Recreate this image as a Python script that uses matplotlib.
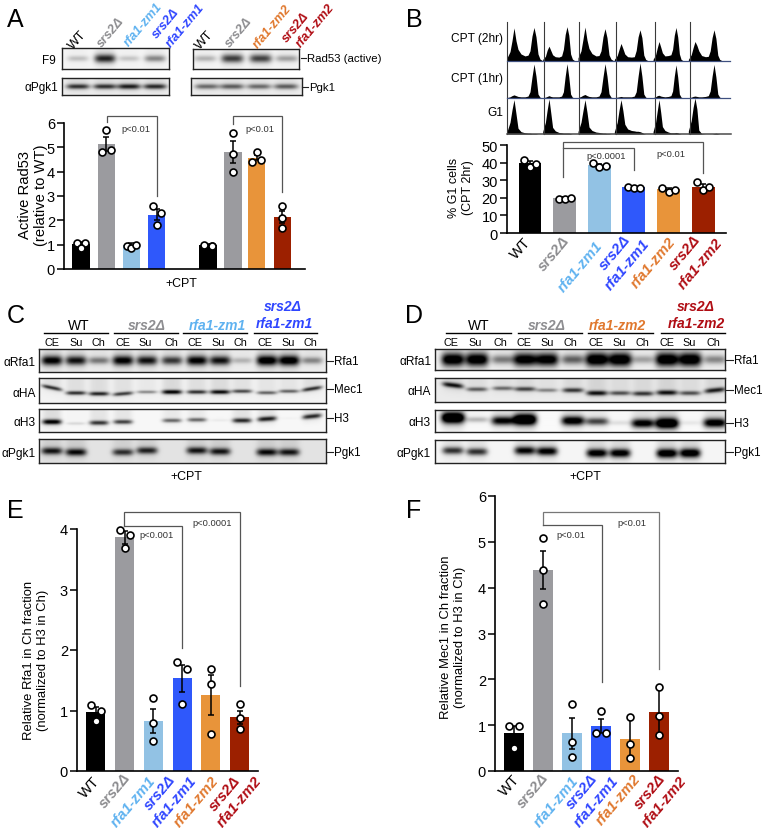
# -*- coding: utf-8 -*-
import numpy as np
import matplotlib
matplotlib.use("Agg")
import matplotlib.pyplot as plt

plt.rcParams["font.family"] = ["Liberation Sans", "DejaVu Sans"]

W, H = 762, 829

BLACK = "#000000"
GREY = "#9b9b9f"
LBLUE = "#92c2e4"
BLUE = "#2f58fb"
ORANGE = "#e8943a"
RED = "#9c2000"
bar_colors = [BLACK, GREY, LBLUE, BLUE, ORANGE, RED]
bar_colors_a = [BLACK, GREY, LBLUE, BLUE, BLACK, GREY, ORANGE, RED]

TXT_GREY = "#8d8d90"
TXT_LBLUE = "#5fb2f0"
TXT_BLUE = "#2f46ff"
TXT_ORANGE = "#e0782e"
TXT_RED = "#b00d14"

# panel A
a_pos = [0, 1, 2, 3, 5.04, 6.03, 6.98, 7.98]
a_mean = [1.03, 5.13, 1.0, 2.23, 1.0, 4.82, 4.57, 2.15]
a_err = [0.08, 0.28, 0.05, 0.22, 0.03, 0.46, 0.1, 0.25]
a_pts = [[1.08, 1.08, 0.88], [5.71, 4.82, 4.9], [0.95, 0.85, 0.97], [2.57, 2.29, 1.8],
         [0.98, 0.93, 0.93], [5.59, 4.72, 4.0], [4.82, 4.41, 4.5], [2.6, 2.11, 1.7]]
a_jit = [[-0.17, 0.17, 0], [0, -0.18, 0.18], [-0.18, 0, 0.18], [-0.16, 0.17, 0],
         [-0.17, 0.17, 0.17], [0, 0, 0], [0, -0.18, 0.16], [0, 0, 0]]

# panel B
b_mean = [39.5, 20.0, 38.5, 26.0, 25.0, 26.3]
b_err = [1.2, 0.2, 0.7, 0.2, 0.6, 1.3]
b_pts = [[41.3, 37.6, 39.2], [19.5, 19.5, 19.8], [39.5, 37.3, 38.0],
         [25.9, 25.3, 25.3], [25.5, 23.4, 24.3], [28.7, 24.3, 25.9]]
b_jit = [[-0.17, 0, 0.17], [-0.17, 0, 0.17], [-0.17, 0, 0.18],
         [-0.18, 0, 0.17], [-0.18, 0, 0.18], [-0.19, 0, 0.18]]

# panel E
e_mean = [0.97, 3.86, 0.83, 1.53, 1.25, 0.89]
e_err = [0.08, 0.1, 0.2, 0.22, 0.33, 0.11]
e_pts = [[1.09, 0.99, 0.82], [3.99, 3.9, 3.69], [1.2, 0.8, 0.49],
         [1.8, 1.69, 1.1], [1.69, 1.43, 0.61], [1.1, 0.88, 0.69]]
e_jit = [[-0.17, 0.17, 0], [-0.17, 0.17, 0], [0, 0, 0], [-0.17, 0.17, 0], [0, 0, 0], [0, 0, 0]]

# panel F
f_mean = [0.84, 4.39, 0.82, 0.98, 0.7, 1.28]
f_err = [0.14, 0.42, 0.34, 0.16, 0.45, 0.54]
f_pts = [[0.98, 0.98, 0.51], [5.09, 4.39, 3.64], [1.47, 0.64, 0.31],
         [1.3, 0.82, 0.82], [1.17, 0.58, 0.29], [1.83, 1.19, 0.79]]
f_jit = [[-0.17, 0.17, 0], [0, 0, 0], [0, 0, 0], [0, -0.17, 0.17], [0, 0, 0], [0, 0, 0]]

# flow cytometry profiles, % of row height
flow_x = [0, 3, 5, 7, 9, 11, 14, 18, 21, 23, 25, 27, 29, 31, 33, 36]
flow_2hr = [[8, 24, 52, 85, 52, 30, 18, 13, 15, 26, 64, 86, 62, 18, 5, 0],
            [4, 12, 28, 38, 27, 16, 11, 10, 13, 30, 68, 88, 66, 18, 5, 0],
            [8, 26, 56, 87, 54, 32, 19, 13, 14, 26, 62, 83, 60, 16, 5, 0],
            [4, 14, 30, 45, 32, 18, 11, 10, 11, 27, 62, 80, 60, 15, 4, 0],
            [4, 16, 34, 50, 36, 21, 13, 14, 16, 30, 66, 86, 62, 18, 4, 0],
            [4, 16, 34, 50, 40, 26, 14, 11, 12, 26, 60, 80, 58, 15, 4, 0]]
flow_1hr = [[1, 3, 6, 8, 6, 4, 3, 3, 5, 16, 54, 87, 56, 10, 2, 0],
            [1, 2, 4, 6, 4, 3, 3, 3, 5, 16, 56, 88, 54, 10, 2, 0],
            [1, 4, 7, 9, 6, 4, 3, 3, 5, 16, 54, 88, 56, 11, 2, 0],
            [1, 2, 3, 4, 3, 3, 3, 3, 5, 16, 56, 90, 56, 10, 2, 0],
            [1, 3, 6, 7, 5, 4, 3, 4, 6, 18, 56, 85, 54, 10, 2, 0],
            [1, 2, 4, 5, 4, 3, 3, 4, 6, 18, 56, 86, 54, 10, 2, 0]]
flow_g1 = [[6, 30, 62, 88, 52, 15, 6, 3, 2, 2, 1, 1, 1, 0, 0, 0],
           [6, 30, 62, 90, 54, 17, 8, 4, 3, 2, 2, 2, 2, 1, 0, 0],
           [6, 30, 60, 88, 56, 18, 9, 5, 4, 3, 2, 2, 1, 1, 0, 0],
           [6, 30, 62, 88, 60, 25, 13, 9, 8, 7, 7, 6, 4, 1, 0, 0],
           [6, 30, 60, 88, 56, 19, 9, 5, 3, 3, 3, 4, 3, 1, 0, 0],
           [8, 34, 68, 92, 64, 10, 1, 0, 0, 0, 0, 1, 2, 1, 0, 0]]

# blot band strengths by lane, and the height of the band in its strip (0 top, 1 bottom)
a_f9_l = [0.2, 0.8, 0.18, 0.42]
a_f9_r = [0.25, 0.7, 0.68, 0.32]
a_pgk_l = [0.72, 0.72, 0.8, 0.75]
a_pgk_r = [0.5, 0.55, 0.5, 0.55]

c_rfa = [0.95, 0.85, 0.45, 0.95, 0.85, 0.7, 0.95, 0.85, 0.22, 1.05, 1.05, 0.4]
c_ha = [0.75, 0.75, 0.8, 0.7, 0.4, 0.95, 0.75, 0.9, 0.65, 0.55, 0.55, 0.75]
c_h3 = [1.0, 0.12, 0.75, 0.7, 0.0, 0.55, 0.55, 0.05, 0.8, 0.85, 0.02, 0.8]
c_pgk = [0.8, 0.85, 0.0, 0.7, 0.75, 0.0, 0.8, 0.8, 0.0, 0.85, 0.8, 0.0]
c_ha_y = [0.39, 0.6, 0.63, 0.63, 0.56, 0.56, 0.56, 0.56, 0.53, 0.59, 0.53, 0.43]
c_h3_y = [0.56, 0.63, 0.6, 0.56, 0.5, 0.5, 0.47, 0.49, 0.5, 0.43, 0.4, 0.32]
c_pgk_y = [0.5, 0.55, 0.5, 0.55, 0.48, 0.5, 0.48, 0.52, 0.5, 0.55, 0.55, 0.5]

d_rfa = [1.1, 1.1, 0.45, 1.05, 1.05, 0.55, 1.15, 1.15, 0.3, 1.15, 1.15, 0.4]
d_ha = [0.85, 0.55, 0.5, 0.65, 0.4, 0.7, 0.85, 0.6, 0.7, 0.85, 0.6, 0.8]
d_h3 = [1.5, 0.25, 1.0, 1.5, 0.0, 1.1, 0.7, 0.1, 1.05, 1.4, 0.07, 1.1]
d_pgk = [0.75, 0.75, 0.0, 0.95, 1.0, 0.0, 1.05, 1.05, 0.0, 1.15, 1.15, 0.0]
d_ha_y = [0.3, 0.47, 0.43, 0.46, 0.51, 0.51, 0.63, 0.63, 0.65, 0.61, 0.63, 0.51]
d_h3_y = [0.38, 0.46, 0.51, 0.46, 0.5, 0.51, 0.54, 0.6, 0.62, 0.62, 0.6, 0.6]
d_pgk_y = [0.46, 0.51, 0.5, 0.46, 0.49, 0.5, 0.57, 0.57, 0.5, 0.58, 0.57, 0.5]

lane_names = ["CE", "Su", "Ch"] * 4


def px_axes(left, top, right, bottom):
    return fig.add_axes([left / W, 1 - bottom / H, (right - left) / W, (bottom - top) / H],
                        facecolor="none")


def bars(rect, xlim, ymax, ticks, pos, mean, err, pts, jit, colors, width, ms=5.0):
    ax = px_axes(*rect)
    ax.bar(pos, mean, width=width, color=colors, zorder=1)
    ax.errorbar(pos, mean, yerr=err, fmt="none", ecolor="black", elinewidth=1.1,
                capsize=2.3, capthick=1.1, zorder=2)
    for x, p, j in zip(pos, pts, jit):
        ax.plot(x + np.array(j), p, "o", mfc="white", mec="black", ms=ms, mew=1.2,
                zorder=3, clip_on=False, ls="none")
    ax.set_xlim(*xlim)
    ax.set_ylim(0, ymax)
    ax.set_xticks([])
    ax.set_yticks(ticks)
    ax.tick_params(axis="y", length=5, width=1.1, pad=1.5, labelsize=10.5)
    for s in ["top", "right"]:
        ax.spines[s].set_visible(False)
    for s in ["left", "bottom"]:
        ax.spines[s].set_linewidth(1.2)
    return ax


def blot(rect, lanes, strength, ys=None, half_w=10.0, half_h=3.0, bg=0.95, tilt=None):
    left, top, right, bottom = rect
    ax = px_axes(*rect)
    n_y, n_x = (bottom - top) * 2, (right - left) * 2
    xx, yy = np.meshgrid(left + (np.arange(n_x) + 0.5) / 2, (np.arange(n_y) + 0.5) / 2)
    img = np.full((n_y, n_x), float(bg))
    for i, (lx, st) in enumerate(zip(lanes, strength)):
        if st <= 0:
            continue
        f = 0.5 if ys is None else ys[i]
        slope = 0.0 if tilt is None else tilt[i]
        dy = yy - (f * (bottom - top) + slope * (xx - lx))
        hh = half_h * (0.6 + 0.6 * min(st, 1.5))
        side = np.exp(-((xx - lx) / half_w) ** 4)
        band = side * np.exp(-(dy / hh) ** 2)
        tail = side * np.exp(-(np.maximum(dy, 0) / (hh * 2.5)) ** 2)
        img -= 0.95 * st * band + 0.1 * st * tail
    ax.imshow(np.clip(img, 0, 1), cmap="gray", vmin=0, vmax=1, aspect="auto",
              interpolation="bilinear")
    ax.set_xticks([])
    ax.set_yticks([])
    for s in ax.spines.values():
        s.set_linewidth(1.0)
        s.set_color("#222222")
    return ax


fig = plt.figure(figsize=(W / 100, H / 100), dpi=100, facecolor="white")

# ---------- bar charts ----------
bars((64, 124, 305, 270), (-0.675, 8.89), 6, range(7), a_pos, a_mean, a_err, a_pts, a_jit,
     bar_colors_a, 0.68)
bars((507, 146, 726, 234), (-0.665, 5.66), 50, range(0, 51, 10), np.arange(6), b_mean, b_err,
     b_pts, b_jit, bar_colors, 0.66)
bars((77, 530, 258, 772), (-0.66, 5.64), 4, range(5), np.arange(6), e_mean, e_err, e_pts, e_jit,
     bar_colors, 0.66)
bars((495, 497, 678, 772), (-0.655, 5.655), 6, range(7), np.arange(6), f_mean, f_err, f_pts,
     f_jit, bar_colors, 0.66)

# ---------- flow profiles ----------
g1_peak = [514, 549, 585, 621, 659, 695]
g2_peak = [534, 567, 605, 640, 676, 714]
for base, rows in zip([62, 99, 135], [flow_2hr, flow_1hr, flow_g1]):
    for k, prof in enumerate(rows):
        sc = (g2_peak[k] - g1_peak[k]) / 20.0
        left = g1_peak[k] - 7 * sc
        ax = px_axes(left, base - 39, left + 36 * sc, base)
        ax.fill_between(flow_x, 0, prof, color="black", lw=0)
        ax.set_xlim(0, 36)
        ax.set_ylim(0, 100)
        ax.axis("off")

# ---------- blots ----------
lanes_a1 = [78, 105, 129, 155]
lanes_a2 = [205, 232, 260, 286]
blot((62, 49, 169, 70), lanes_a1, a_f9_l, half_w=10.5, half_h=3.8, bg=0.96)
blot((193, 50, 299, 70), lanes_a2, a_f9_r, half_w=11, half_h=3.8, bg=0.96)
blot((62, 79, 169, 96), lanes_a1, a_pgk_l, half_w=11.5, half_h=2.4, bg=0.93)
blot((191, 79, 302, 96), [207, 232, 259, 286], a_pgk_r, half_w=12, half_h=2.8, bg=0.93)

lanes_c = [52, 76, 99, 123, 147, 172, 197, 220, 242, 267, 289, 312]
blot((39, 350, 326, 373), lanes_c, c_rfa, half_w=10.5, half_h=4.0, bg=0.93)
blot((39, 379, 326, 404), lanes_c, c_ha, c_ha_y, half_w=10, half_h=1.8,
     tilt=[0.2, 0, 0, -0.08, 0, 0, 0, 0, 0, 0, 0, -0.15])
blot((39, 410, 326, 433), lanes_c, c_h3, c_h3_y, half_w=9.5, half_h=2.1, bg=0.97,
     tilt=[0, 0, 0, 0, 0, 0, 0, 0, 0, -0.06, 0, -0.1])
blot((39, 440, 326, 464), lanes_c, c_pgk, c_pgk_y, half_w=10.5, half_h=3.2, bg=0.89)

lanes_d = [453, 477, 503, 525, 547, 573, 597, 620, 643, 667, 690, 715]
blot((435, 350, 725, 371), lanes_d, d_rfa, half_w=11.5, half_h=5.0, bg=0.94)
blot((435, 379, 725, 403), lanes_d, d_ha, d_ha_y, half_w=10.5, half_h=2.2, bg=0.92,
     tilt=[0.12, 0, 0, 0, 0, 0, 0, 0, 0, 0, 0, -0.1])
blot((435, 411, 725, 433), lanes_d, d_h3, d_h3_y, half_w=11.5, half_h=3.4, bg=0.98)
blot((435, 441, 725, 464), lanes_d, d_pgk, d_pgk_y, half_w=10.5, half_h=3.4, bg=0.96)

# ---------- overlay in pixel coordinates ----------
ov = fig.add_axes([0, 0, 1, 1], facecolor="none", zorder=10)
ov.set_xlim(0, W)
ov.set_ylim(H, 0)
ov.axis("off")


def t(x, y, s, size=8.5, ha="center", color="black", **kw):
    ov.text(x, y, s, fontsize=size, ha=ha, va="center", color=color, **kw)


def strain(x, y, s, color, size, rot=0):
    ov.text(x, y, s, fontsize=size, ha="center", va="center", color=color, rotation=rot,
            rotation_mode="anchor", fontweight="bold", fontstyle="italic")


def bracket(x1, x2, y, y1, y2, color="#555555"):
    ov.plot([x1, x1, x2, x2], [y1, y, y, y2], color=color, lw=0.9, solid_joinstyle="miter")


for s, x, y in [("A", 7, 27), ("B", 406, 27), ("C", 7, 323), ("D", 405, 323),
                ("E", 7, 518), ("F", 406, 518)]:
    ov.text(x, y, s, fontsize=18, ha="left", va="baseline")

# A text
for x in [78, 205]:
    t(x, 40, "WT", 9.5, rotation=48, rotation_mode="anchor")
for x, y, s, c in [(111, 33, "srs2Δ", TXT_GREY), (143, 25, "rfa1-zm1", TXT_LBLUE),
                   (166, 24, "srs2Δ", TXT_BLUE), (185, 26, "rfa1-zm1", TXT_BLUE),
                   (239, 33, "srs2Δ", TXT_GREY), (272, 27, "rfa1-zm2", TXT_ORANGE),
                   (296, 28, "srs2Δ", TXT_RED), (315, 26, "rfa1-zm2", TXT_RED)]:
    strain(x, y, s, c, 9.2, 50)
t(56, 61, "F9", 8.5, ha="right")
t(58, 88, "αPgk1", 8.5, ha="right")
ov.plot([301, 306], [59, 59], color="#222222", lw=0.8)
ov.plot([302, 308], [88, 88], color="#222222", lw=0.8)
t(307, 59, "Rad53 (active)", 8.2, ha="left")
t(309, 88, "Pgk1", 8.2, ha="left")
t(181, 284, "+CPT", 8.9)
t(33, 195, "Active Rad53\n(relative to WT)", 10.6, rotation=90, linespacing=1.2)
bracket(107, 157, 117, 123, 197)
bracket(233, 282, 117, 125, 193)
t(136, 129, "p<0.01", 6.7, color="#333333")
t(260, 129, "p<0.01", 6.7, color="#333333")

# B text
t(503, 39, "CPT (2hr)", 8.6, ha="right")
t(503, 79, "CPT (1hr)", 8.6, ha="right")
t(503, 113, "G1", 8.6, ha="right")
for x in [507, 544, 579, 616, 655, 690]:
    ov.plot([x, x], [23, 135], color="#3a3a3a", lw=0.8)
ov.plot([507, 730], [62, 62], color="#3f5080", lw=0.9)
ov.plot([507, 730], [99, 99], color="#3f5080", lw=0.9)
ov.plot([507, 731], [135, 135], color="#4a4a4a", lw=1.1)
t(461, 188, "% G1 cells\n(CPT 2hr)", 9.0, rotation=90, linespacing=1.2)
bracket(563, 703, 143, 178, 174)
bracket(563, 634, 149, 149, 171)
t(606, 156, "p<0.0001", 6.7, color="#333333")
t(671, 154, "p<0.01", 6.7, color="#333333")
t(521, 249, "WT", 10.7, rotation=48, rotation_mode="anchor")
for x, y, s, c in [(554, 254, "srs2Δ", TXT_GREY), (580, 267, "rfa1-zm1", TXT_LBLUE),
                   (615, 253, "srs2Δ", TXT_BLUE), (627, 265, "rfa1-zm1", TXT_BLUE),
                   (653, 263, "rfa1-zm2", TXT_ORANGE), (685, 253, "srs2Δ", TXT_RED),
                   (700, 264, "rfa1-zm2", TXT_RED)]:
    strain(x, y, s, c, 10.7, 50)

# C text
for x1, x2 in [(44, 108), (114, 178), (183, 247), (254, 317), (446, 511), (518, 582),
               (588, 653), (661, 725)]:
    ov.plot([x1, x2], [334, 334], color="black", lw=1.0)
t(79, 326, "WT", 10)
strain(147, 326, "srs2Δ", TXT_GREY, 10)
strain(217, 326, "rfa1-zm1", TXT_LBLUE, 10)
strain(283, 307, "srs2Δ", TXT_BLUE, 10)
strain(284, 324, "rfa1-zm1", TXT_BLUE, 10)
for x, s in zip([52, 76, 98, 123, 145, 171, 195, 218, 240, 265, 288, 310], lane_names):
    t(x, 343, s, 7.8)
for y, s in zip([363, 394, 423, 454], ["αRfa1", "αHA", "αH3", "αPgk1"]):
    t(36, y, s, 8.6, ha="right")
for y, s in zip([362, 390, 419, 453], ["Rfa1", "Mec1", "H3", "Pgk1"]):
    ov.plot([326, 333], [y, y], color="#222222", lw=0.8)
    t(334, y, s, 8.4, ha="left")
t(186, 477, "+CPT", 8.9)

# D text
t(479, 326, "WT", 10)
strain(547, 326, "srs2Δ", TXT_GREY, 10)
strain(617, 326, "rfa1-zm2", TXT_ORANGE, 10)
strain(696, 307, "srs2Δ", TXT_RED, 10)
strain(696, 324, "rfa1-zm2", TXT_RED, 10)
for x, s in zip([451, 475, 500, 524, 547, 570, 596, 619, 642, 667, 689, 713], lane_names):
    t(x, 343, s, 7.8)
for y, s in zip([362, 392, 423, 454], ["αRfa1", "αHA", "αH3", "αPgk1"]):
    t(431, y, s, 8.6, ha="right")
for y, s in zip([361, 391, 424, 453], ["Rfa1", "Mec1", "H3", "Pgk1"]):
    ov.plot([725, 733], [y, y], color="#222222", lw=0.8)
    t(734, y, s, 8.4, ha="left")
t(585, 477, "+CPT", 8.9)

# E text
t(36, 660, "Relative Rfa1 in Ch fraction\n(normalized to H3 in Ch)", 9.4, rotation=90,
  linespacing=1.2)
bracket(124, 240, 513, 527, 687)
bracket(124, 182, 527, 527, 649)
t(157, 535, "p<0.001", 6.7, color="#333333")
t(212, 523, "p<0.0001", 6.7, color="#333333")
t(90, 788, "WT", 10.7, rotation=48, rotation_mode="anchor")
for x, y, s, c in [(115, 791, "srs2Δ", TXT_GREY), (133, 802, "rfa1-zm1", TXT_LBLUE),
                   (160, 793, "srs2Δ", TXT_BLUE), (174, 802, "rfa1-zm1", TXT_BLUE),
                   (196, 802, "rfa1-zm2", TXT_ORANGE), (225, 794, "srs2Δ", TXT_RED),
                   (239, 802, "rfa1-zm2", TXT_RED)]:
    strain(x, y, s, c, 10.7, 50)

# F text
t(453, 637, "Relative Mec1 in Ch fraction\n(normalized to H3 in Ch)", 9.4, rotation=90,
  linespacing=1.2)
bracket(543, 659, 513, 526, 670, color="#777777")
bracket(543, 602, 526, 526, 683)
t(571, 536, "p<0.01", 6.7, color="#333333")
t(632, 523, "p<0.01", 6.7, color="#333333")
t(510, 786, "WT", 10.7, rotation=48, rotation_mode="anchor")
for x, y, s, c in [(533, 791, "srs2Δ", TXT_GREY), (556, 802, "rfa1-zm1", TXT_LBLUE),
                   (582, 792, "srs2Δ", TXT_BLUE), (596, 802, "rfa1-zm1", TXT_BLUE),
                   (618, 800, "rfa1-zm2", TXT_ORANGE), (650, 792, "srs2Δ", TXT_RED),
                   (664, 802, "rfa1-zm2", TXT_RED)]:
    strain(x, y, s, c, 10.7, 50)

fig.savefig("out.png", dpi=100)
